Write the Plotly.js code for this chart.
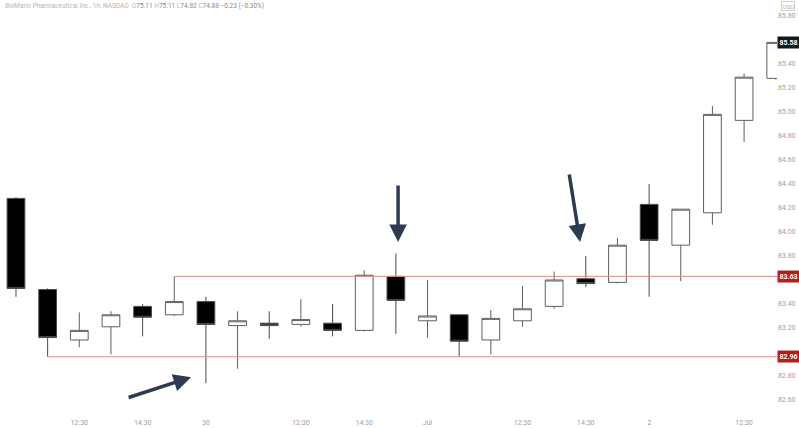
<!DOCTYPE html>
<html>
<head>
<meta charset="utf-8">
<script src="https://cdn.plot.ly/plotly-3.0.1.min.js"></script>
<style>html,body{margin:0;padding:0;background:#fff;}#chart{width:799px;height:428px;}</style>
</head>
<body>
<div id="chart"></div>
<script>
// Hourly bars, 29 Jun – 2 Jul
const times = [
  'Jun 29 10:30','Jun 29 11:30','Jun 29 12:30','Jun 29 13:30','Jun 29 14:30','Jun 29 15:30',
  'Jun 30 09:30','Jun 30 10:30','Jun 30 11:30','Jun 30 12:30','Jun 30 13:30','Jun 30 14:30','Jun 30 15:30',
  'Jul 1 09:30','Jul 1 10:30','Jul 1 11:30','Jul 1 12:30','Jul 1 13:30','Jul 1 14:30','Jul 1 15:30',
  'Jul 2 09:30','Jul 2 10:30','Jul 2 11:30','Jul 2 12:30','Jul 2 13:30'
];
const opens  = [84.28,83.52,83.10,83.21,83.38,83.31,83.42,83.22,83.24,83.23,83.24,83.18,83.63,83.26,83.31,83.10,83.26,83.38,83.61,83.58,84.23,83.89,84.16,84.93,85.28];
const highs  = [84.29,83.53,83.33,83.34,83.40,83.63,83.46,83.34,83.34,83.44,83.40,83.68,83.82,83.60,83.31,83.35,83.55,83.67,83.80,83.95,84.40,84.19,85.05,85.32,85.58];
const lows   = [83.46,82.96,83.04,82.98,83.13,83.30,82.74,82.86,83.11,83.21,83.13,83.17,83.15,83.12,82.96,82.98,83.21,83.36,83.54,83.57,83.46,83.59,84.06,84.75,85.27];
const closes = [83.53,83.12,83.18,83.31,83.29,83.42,83.23,83.26,83.22,83.27,83.18,83.64,83.43,83.30,83.09,83.28,83.36,83.60,83.57,83.89,83.93,84.19,84.98,85.29,85.58];

const tickIdx   = [2,4,6,9,11,13,16,18,20,23];
const tickText  = ['12:30','14:30','30','12:30','14:30','Jul','12:30','14:30','2','12:30'];

// price-axis labels left visible (others are covered by the price boxes)
const priceTicks = [82.6,82.8,83.2,83.4,83.8,84.0,84.2,84.4,84.6,84.8,85.0,85.2,85.4,85.8];

const levelPrices = [83.63, 82.96];     // resistance, support
const levelStarts = [5, 1];             // bar index where each line starts
const lastPrice = 85.58;

const xIdx = times.map((_, i) => i);

const trace = {
  type: 'candlestick',
  x: xIdx, open: opens, high: highs, low: lows, close: closes,
  text: times, hoverinfo: 'text+y',
  whiskerwidth: 0,
  increasing: {line: {color: '#5f5f5f', width: 1}, fillcolor: '#ffffff'},
  decreasing: {line: {color: '#4a4a4a', width: 1}, fillcolor: '#000000'},
  showlegend: false
};

const FONT = 'Roboto, "Open Sans", sans-serif';

const shapes = levelPrices.map((p, i) => ({
  type: 'line', xref: 'x', yref: 'y',
  x0: levelStarts[i], x1: 24.2, y0: p, y1: p,
  line: {color: '#e58a8a', width: 1}
}));

const annotations = [
  // header
  {xref: 'paper', yref: 'paper', x: 0.004, y: 0.999, xanchor: 'left', yanchor: 'top', showarrow: false,
   text: 'BioMarin Pharmaceutical Inc., 1h, NASDAQ  O<span style="color:#8a8a8a">75.11</span> H<span style="color:#8a8a8a">75.11</span> L<span style="color:#8a8a8a">74.82</span> C<span style="color:#8a8a8a">74.88</span> <span style="color:#8a8a8a">\u22120.23 (\u22120.30%)</span>',
   font: {family: FONT, size: 6.5, color: '#b5b5b5'}},
  // USD
  {xref: 'paper', yref: 'paper', x: 1.0, y: 1.0, xanchor: 'left', yanchor: 'top', xshift: 4, yshift: -1, showarrow: false,
   text: 'USD', font: {family: FONT, size: 6, color: '#b0b0b0'}, bordercolor: '#d0d0d0', borderwidth: 1, borderpad: 0.5},
  // price labels
  {xref: 'paper', yref: 'y', x: 1.0, y: lastPrice, xanchor: 'left', yanchor: 'middle', showarrow: false,
   text: '<b>' + lastPrice.toFixed(2) + '</b>', font: {family: FONT, size: 7, color: '#ffffff'}, bgcolor: '#131722', borderpad: 1.5},
  ...levelPrices.map(p => ({xref: 'paper', yref: 'y', x: 1.0, y: p, xanchor: 'left', yanchor: 'middle', showarrow: false,
   text: '<b>' + p.toFixed(2) + '</b>', font: {family: FONT, size: 7, color: '#ffffff'}, bgcolor: '#b71c1c', borderpad: 1.5})),
  // arrows
  {xref: 'x', yref: 'y', axref: 'x', ayref: 'y', x: 5.53, y: 82.79, ax: 3.51, ay: 82.617, text: '', showarrow: true,
   arrowhead: 2, arrowsize: 1, arrowwidth: 3.5, arrowcolor: '#2c3a52', standoff: 0},
  {xref: 'x', yref: 'y', axref: 'x', ayref: 'y', x: 12.07, y: 83.917, ax: 12.07, ay: 84.40, text: '', showarrow: true,
   arrowhead: 2, arrowsize: 1, arrowwidth: 3.5, arrowcolor: '#2c3a52', standoff: 0},
  {xref: 'x', yref: 'y', axref: 'x', ayref: 'y', x: 17.82, y: 83.917, ax: 17.47, ay: 84.492, text: '', showarrow: true,
   arrowhead: 2, arrowsize: 1, arrowwidth: 3.5, arrowcolor: '#2c3a52', standoff: 0}
];

const layout = {
  width: 799, height: 428,
  margin: {l: 0, r: 22, t: 0, b: 16, pad: 0},
  paper_bgcolor: '#ffffff', plot_bgcolor: '#ffffff',
  boxgap: 0.2,
  showlegend: false,
  xaxis: {
    type: 'linear', range: [-0.505, 24.04],
    tickmode: 'array', tickvals: tickIdx, ticktext: tickText,
    showgrid: false, zeroline: false, showline: false, ticks: '',
    ticklabelstandoff: 5,
    rangeslider: {visible: false},
    tickfont: {family: FONT, size: 7, color: '#a0a0a0'}
  },
  yaxis: {
    side: 'right', range: [82.5, 85.933],
    tickmode: 'array', tickvals: priceTicks, ticktext: priceTicks.map(v => v.toFixed(2)),
    showgrid: false, zeroline: false, showline: false, ticks: '',
    tickfont: {family: FONT, size: 7, color: '#a0a0a0'}
  },
  shapes: shapes,
  annotations: annotations
};

Plotly.newPlot('chart', [trace], layout, {displayModeBar: false, staticPlot: true});
</script>
</body>
</html>
